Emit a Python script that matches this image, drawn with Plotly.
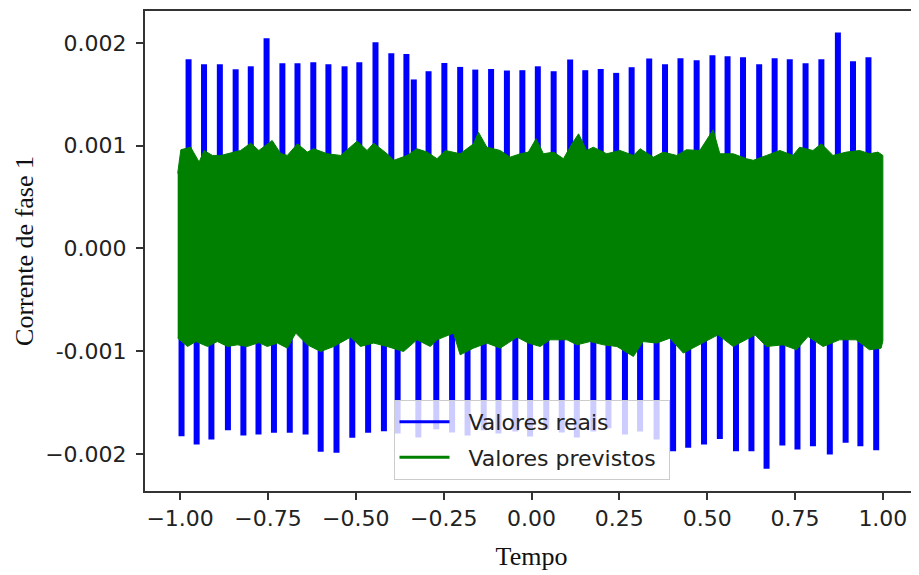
import plotly.graph_objects as go

# values, in thousandths of the y unit
top_t = [-0.976, -0.932, -0.887, -0.842, -0.799, -0.754, -0.709, -0.666, -0.621, -0.578,
         -0.532, -0.490, -0.444, -0.399, -0.356, -0.335, -0.293, -0.248, -0.203, -0.160,
         -0.115, -0.070, -0.026, 0.018, 0.063, 0.110, 0.153, 0.197, 0.241, 0.285,
         0.335, 0.380, 0.424, 0.470, 0.515, 0.558, 0.602, 0.648, 0.692, 0.735,
         0.780, 0.825, 0.872, 0.915, 0.959]
top_peak = [1.840, 1.792, 1.792, 1.743, 1.772, 2.044, 1.801, 1.801, 1.811, 1.792,
            1.772, 1.811, 2.005, 1.898, 1.892, 1.644, 1.724, 1.804, 1.766, 1.740,
            1.746, 1.731, 1.734, 1.772, 1.724, 1.837, 1.734, 1.746, 1.708, 1.763,
            1.847, 1.792, 1.850, 1.830, 1.879, 1.869, 1.860, 1.792, 1.850, 1.840,
            1.801, 1.840, 2.102, 1.821, 1.860]

bottom_t = [-0.996, -0.953, -0.911, -0.864, -0.820, -0.777, -0.733, -0.688, -0.643, -0.600,
            -0.555, -0.510, -0.465, -0.420, -0.381, -0.322, -0.271, -0.226, -0.182, -0.136,
            -0.094, -0.046, -0.004, 0.042, 0.086, 0.129, 0.176, 0.219, 0.266, 0.309,
            0.356, 0.403, 0.446, 0.491, 0.536, 0.582, 0.626, 0.669, 0.714, 0.757,
            0.801, 0.849, 0.894, 0.936, 0.981]
bottom_low = [-1.827, -1.908, -1.859, -1.769, -1.821, -1.811, -1.794, -1.794, -1.811, -1.979,
              -1.988, -1.843, -1.794, -1.779, -1.800, -1.840, -1.760, -1.790, -1.820, -1.770,
              -1.800, -1.780, -1.830, -1.760, -1.790, -1.840, -1.780, -1.750, -1.810, -1.780,
              -1.860, -1.973, -1.940, -1.908, -1.853, -1.973, -1.973, -2.144, -1.918, -1.956,
              -1.924, -2.005, -1.891, -1.924, -1.963]

green_t_up = [-1.007, -0.998, -0.970, -0.946, -0.932, -0.908, -0.884, -0.856, -0.828, -0.799,
              -0.776, -0.738, -0.714, -0.695, -0.666, -0.638, -0.620, -0.581, -0.543, -0.496,
              -0.468, -0.449, -0.411, -0.392, -0.354, -0.326, -0.297, -0.269, -0.245, -0.203,
              -0.165, -0.151, -0.127, -0.089, -0.061, -0.032, -0.009, 0.013, 0.034, 0.063,
              0.091, 0.115, 0.134, 0.157, 0.176, 0.214, 0.252, 0.290, 0.309, 0.347,
              0.375, 0.413, 0.441, 0.479, 0.517, 0.536, 0.574, 0.612, 0.631, 0.669,
              0.707, 0.744, 0.763, 0.801, 0.825, 0.858, 0.896, 0.934, 0.962, 0.986, 1.000]
green_up = [0.730, 0.960, 0.985, 0.840, 0.953, 0.905, 0.905, 0.927, 0.953, 1.024,
            0.953, 1.050, 0.924, 0.905, 1.018, 0.937, 0.970, 0.921, 0.905, 1.044,
            0.953, 1.024, 0.921, 0.857, 0.905, 0.970, 0.937, 0.873, 0.953, 0.921,
            1.018, 1.131, 0.985, 0.953, 0.888, 0.921, 0.937, 1.067, 0.921, 0.937,
            0.873, 1.018, 1.115, 0.953, 0.985, 0.921, 0.953, 0.905, 0.970, 0.888,
            0.937, 0.905, 0.960, 0.953, 1.154, 0.921, 0.921, 0.873, 0.857, 0.905,
            0.953, 0.905, 0.985, 0.953, 1.018, 0.905, 0.937, 0.953, 0.921, 0.937, 0.905]

green_t_lo = [-1.007, -0.979, -0.955, -0.922, -0.894, -0.865, -0.837, -0.809, -0.776, -0.752,
              -0.723, -0.695, -0.671, -0.638, -0.600, -0.563, -0.515, -0.487, -0.449, -0.411,
              -0.364, -0.326, -0.288, -0.269, -0.222, -0.203, -0.165, -0.127, -0.089, -0.041,
              -0.009, 0.025, 0.053, 0.101, 0.129, 0.167, 0.205, 0.243, 0.290, 0.318,
              0.356, 0.394, 0.432, 0.470, 0.531, 0.574, 0.636, 0.669, 0.716, 0.754,
              0.787, 0.830, 0.877, 0.924, 0.962, 0.995, 1.000]
green_lo = [-0.873, -0.954, -0.906, -0.954, -0.906, -0.954, -0.938, -0.954, -0.916, -0.954,
            -0.921, -0.970, -0.824, -0.938, -1.003, -0.954, -0.863, -0.954, -0.921, -0.954,
            -1.003, -0.889, -0.954, -0.889, -0.824, -1.035, -0.970, -0.921, -0.970, -0.863,
            -0.921, -0.954, -0.889, -0.889, -0.938, -0.906, -0.938, -0.954, -1.051, -0.906,
            -0.921, -0.873, -1.018, -0.954, -0.841, -0.954, -0.841, -0.954, -0.938, -0.986,
            -0.857, -0.954, -0.889, -0.889, -0.986, -0.970, -0.900]

x_ticks = [-1.0, -0.75, -0.5, -0.25, 0.0, 0.25, 0.5, 0.75, 1.0]
x_labels = ["\u22121.00", "\u22120.75", "\u22120.50", "\u22120.25", "0.00", "0.25", "0.50", "0.75", "1.00"]
y_ticks = [-0.002, -0.001, 0.0, 0.001, 0.002]
y_labels = ["\u22120.002", "-0.001", "0.000", "0.001", "0.002"]

# blue spikes: one vertical stroke per peak, starting inside the green band
bx, by = [], []
for t, v in zip(top_t + bottom_t, top_peak + bottom_low):
    bx += [t, t, None]
    by += [v * 0.3e-3, v * 1e-3, None]

# green band outline
gx = green_t_up + green_t_lo[::-1]
gy = [v * 1e-3 for v in green_up] + [v * 1e-3 for v in green_lo[::-1]]

fig = go.Figure()
fig.add_trace(go.Scatter(x=bx, y=by, mode='lines', line=dict(color='#0000ff', width=6),
                         showlegend=False, hoverinfo='skip'))
fig.add_trace(go.Scatter(x=gx, y=gy, mode='lines', fill='toself', fillcolor='#008000',
                         line=dict(color='#008000', width=1), showlegend=False, hoverinfo='skip'))
fig.add_trace(go.Scatter(x=[None], y=[None], mode='lines', name='\u00a0\u00a0Valores reais',
                         legendgroup='a', line=dict(color='#0000ff', width=3)))
fig.add_trace(go.Scatter(x=[None], y=[None], mode='lines', name='\u00a0\u00a0Valores previstos\u00a0',
                         legendgroup='b', line=dict(color='#008000', width=3)))

axis_style = dict(showline=True, mirror=True, linecolor='#333', linewidth=2, ticks='outside',
                  ticklen=7, tickwidth=2, tickcolor='#333', showgrid=False, zeroline=False,
                  automargin=False)

fig.update_xaxes(range=[-1.1, 1.1], tickvals=x_ticks, ticktext=x_labels,
                 title=dict(text='Tempo', font=dict(family='Liberation Serif', size=26, color='#111'),
                            standoff=16), **axis_style)
fig.update_yaxes(range=[-0.00236, 0.00231], tickvals=y_ticks, ticktext=y_labels,
                 ticklabelstandoff=5,
                 title=dict(text='Corrente de fase 1', font=dict(family='Liberation Serif', size=26, color='#111'),
                            standoff=4), **axis_style)

# page body adds 8 px around the figure, so the figure is 8 px smaller and margins shifted
fig.update_layout(
    width=911, height=567,
    margin=dict(l=137, r=1, t=3, b=84),
    paper_bgcolor='white', plot_bgcolor='white',
    font=dict(family='DejaVu Sans', size=22, color='#222'),
    legend=dict(x=0.5, xanchor='center', y=0.023, yanchor='bottom',
                bgcolor='rgba(255,255,255,0.8)', bordercolor='#cccccc', borderwidth=1,
                traceorder='grouped', tracegroupgap=4,
                itemwidth=50, font=dict(family='DejaVu Sans', size=22, color='#222')),
)

fig.write_html("out.html")
